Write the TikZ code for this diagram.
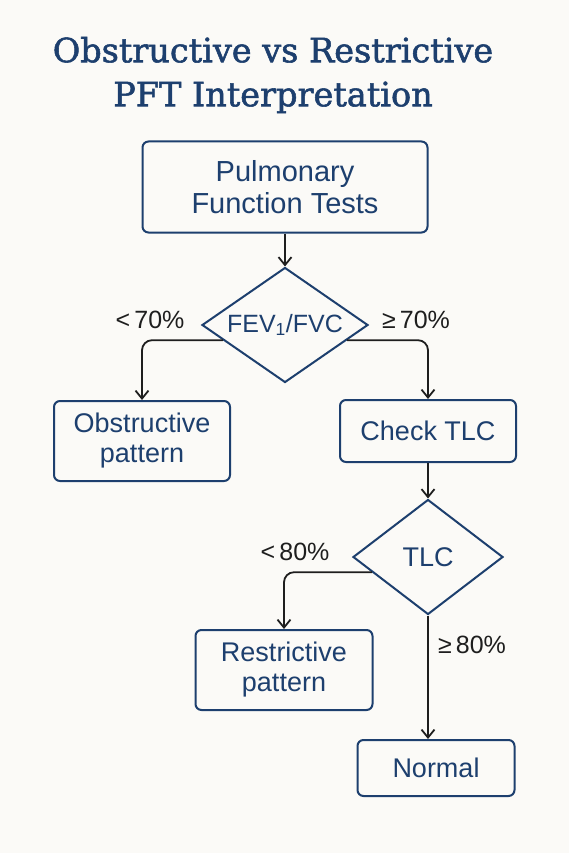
\documentclass[tikz,border=0pt]{standalone}
\usepackage{fontspec}
\setmainfont{Liberation Sans}
\newfontfamily\titlefont[FakeBold=1.6]{DejaVu Serif}
\usetikzlibrary{shapes.geometric, arrows.meta, calc}
\definecolor{navy}{HTML}{1D3F6E}
\definecolor{ink}{HTML}{1E1E1E}
\definecolor{paper}{HTML}{FBFAF7}
\tikzset{stepbox/.style={draw=navy, line width=2pt, rounded corners=6pt, text=navy, align=center, inner sep=0pt, font=\fontsize{27}{30}\selectfont}}
\tikzset{decision/.style={diamond, shape aspect=1.4, draw=navy, line width=2pt, text=navy, inner sep=0pt, font=\fontsize{27}{30}\selectfont}}
\tikzset{flow/.style={draw=ink, line width=1.8pt, rounded corners=10pt, -{Straight Barb[length=8pt, width=13pt]}}}
\tikzset{cond/.style={text=ink, font=\fontsize{25}{28}\selectfont}}

\begin{document}
\begin{tikzpicture}[x=1pt, y=-1pt]
  \fill[paper] (0,0) rectangle (569,853);
  \node[text=navy, align=center, font=\titlefont\fontsize{33.5}{44}\selectfont] (title) at (273,75) {Obstructive vs Restrictive\\PFT Interpretation};

  \node[stepbox, minimum width=285pt, minimum height=91pt, font=\fontsize{29}{32}\selectfont] (pft) at (285,187) {Pulmonary\\Function Tests};
  \node[decision, minimum width=166pt, minimum height=115pt, font=\fontsize{25}{28}\selectfont] (ratio) at (285,325) {FEV\textsubscript{1}/FVC};
  \node[stepbox, minimum width=176pt, minimum height=80pt] (obs) at (142,441) {Obstructive\\pattern};
  \node[stepbox, minimum width=176pt, minimum height=62pt] (check) at (428,431) {Check TLC};
  \node[decision, minimum width=150pt, minimum height=115pt] (tlc) at (428,557) {TLC};
  \node[stepbox, minimum width=177pt, minimum height=80pt] (res) at (284,670) {Restrictive\\pattern};
  \node[stepbox, minimum width=157pt, minimum height=56pt] (normal) at (436,768) {Normal};

  % branch conditions
  \node[cond] (lt70) at (150,320) {<\,70\%};
  \node[cond] (ge70) at (416,320) {≥\,70\%};
  \node[cond] (lt80) at (295,552) {<\,80\%};
  \node[cond] (ge80) at (472,645) {≥\,80\%};

  \coordinate (ratioL) at ($(ratio.west)!0.26!(ratio.south)$);
  \coordinate (ratioR) at ($(ratio.east)!0.26!(ratio.south)$);
  \coordinate (tlcL) at ($(tlc.west)!0.26!(tlc.south)$);

  \draw[flow] (pft) -- (ratio);
  \draw[flow] (ratioL) -- (obs.north |- ratioL) -- (obs.north);
  \draw[flow] (ratioR) -- (check.north |- ratioR) -- (check.north);
  \draw[flow] (check) -- (tlc);
  \draw[flow] (tlcL) -- (res.north |- tlcL) -- (res.north);
  \draw[flow] (tlc.south) -- (tlc.south |- normal.north);
\end{tikzpicture}
\end{document}
